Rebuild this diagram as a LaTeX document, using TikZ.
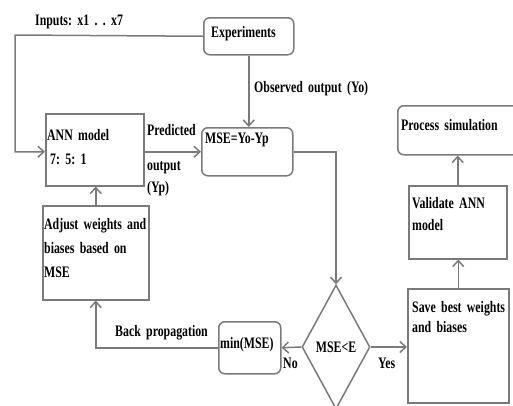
\documentclass[tikz,border=0pt]{standalone}
\usepackage{fontspec}
\setmainfont{Liberation Serif}[FakeStretch=0.74,WordSpace=0.5]
\usetikzlibrary{shapes.geometric,arrows.meta}
\definecolor{linegray}{RGB}{122,122,122}
\frenchspacing
\tikzset{
  box/.style={draw=linegray, line width=1.5pt, anchor=north west, inner sep=0pt},
  rbox/.style={box, rounded corners=6pt},
  txt/.style={font=\fontsize{16}{24}\selectfont\bfseries, inner sep=0pt, anchor=base west, text width=120pt, align=left},
  link/.style={draw=linegray, line width=1.5pt},
  flow/.style={link, -{Straight Barb[length=6pt,width=11pt]}},
}
\begin{document}
\begin{tikzpicture}[x=1pt,y=-1pt]
  \useasboundingbox (0,0) rectangle (513,405);
  \clip (0,0) rectangle (513,405);
  \node[rbox, minimum width=90, minimum height=37] (exp) at (203,17) {};
  \node[txt] (exptxt) at (211,37) {Experiments};
  \node[box, minimum width=98, minimum height=72] (ann) at (45,113) {};
  \node[txt] (anntxt) at (47,140) {ANN model\\\hspace{3pt}7: 5: 1};
  \node[rbox, minimum width=91, minimum height=48] (mse) at (201,127) {};
  \node[txt] (msetxt) at (205,143) {MSE=Yo-Yp};
  \node[box, minimum width=106, minimum height=94] (adj) at (42,205) {};
  \node[txt] (adjtxt) at (44,229) {Adjust weights and\\biases based on\\MSE};
  \node[rbox, minimum width=62, minimum height=52] (minmse) at (218,321) {};
  \node[txt] (mintxt) at (220,348) {min(MSE)};
  \node[diamond, draw=linegray, line width=1.5pt, inner sep=0pt, minimum width=68, minimum height=124,
        font=\fontsize{16}{24}\selectfont\bfseries] (dec) at (336,347) {MSE<E};
  \node[box, minimum width=101, minimum height=114] (save) at (407,288) {};
  \node[txt, font=\fontsize{16}{20}\selectfont\bfseries] (savetxt) at (412,312) {Save best weights\\and biases};
  \node[box, minimum width=98, minimum height=73] (valid) at (408,185) {};
  \node[txt, font=\fontsize{16}{22}\selectfont\bfseries] (validtxt) at (412,208) {Validate ANN\\model};
  \node[rbox, minimum width=122, minimum height=49] (proc) at (397,105) {};
  \node[txt] (proctxt) at (401,130) {Process simulation};

  \node[txt] (inlbl) at (35,25) {Inputs: x1 . . x7};
  \node[txt] (obslbl) at (254,92) {Observed output (Yo)};
  \node[txt] (predlbl) at (147,135) {Predicted};
  \node[txt, font=\fontsize{16}{22}\selectfont\bfseries] (outlbl) at (147,170) {output\\(Yp)};
  \node[txt] (bplbl) at (115,336) {Back propagation};
  \node[txt] (nolbl) at (283,368) {No};
  \node[txt] (yeslbl) at (378,368) {Yes};

  \coordinate (inturn) at (15,35);
  \draw[flow] (exp.west) -- (inturn) |- (ann.west |- mse.west);
  \draw[flow] (ann.east |- mse.west) -- (mse.west);
  \draw[flow] (exp.south) -- (exp.south |- mse.north);
  \draw[flow] (mse.east) -| (dec.north);
  \draw[flow] (dec.west) -- (minmse.east);
  \draw[flow] (minmse.west) -| (adj.south);
  \draw[flow] (adj.north) -- (adj.north |- ann.south);
  \draw[flow] (dec.east) -- (save.west |- dec.east);
  \draw[flow] (save.north) -- (save.north |- valid.south);
  \draw[flow] (valid.north) -- (valid.north |- proc.south);
\end{tikzpicture}
\end{document}
